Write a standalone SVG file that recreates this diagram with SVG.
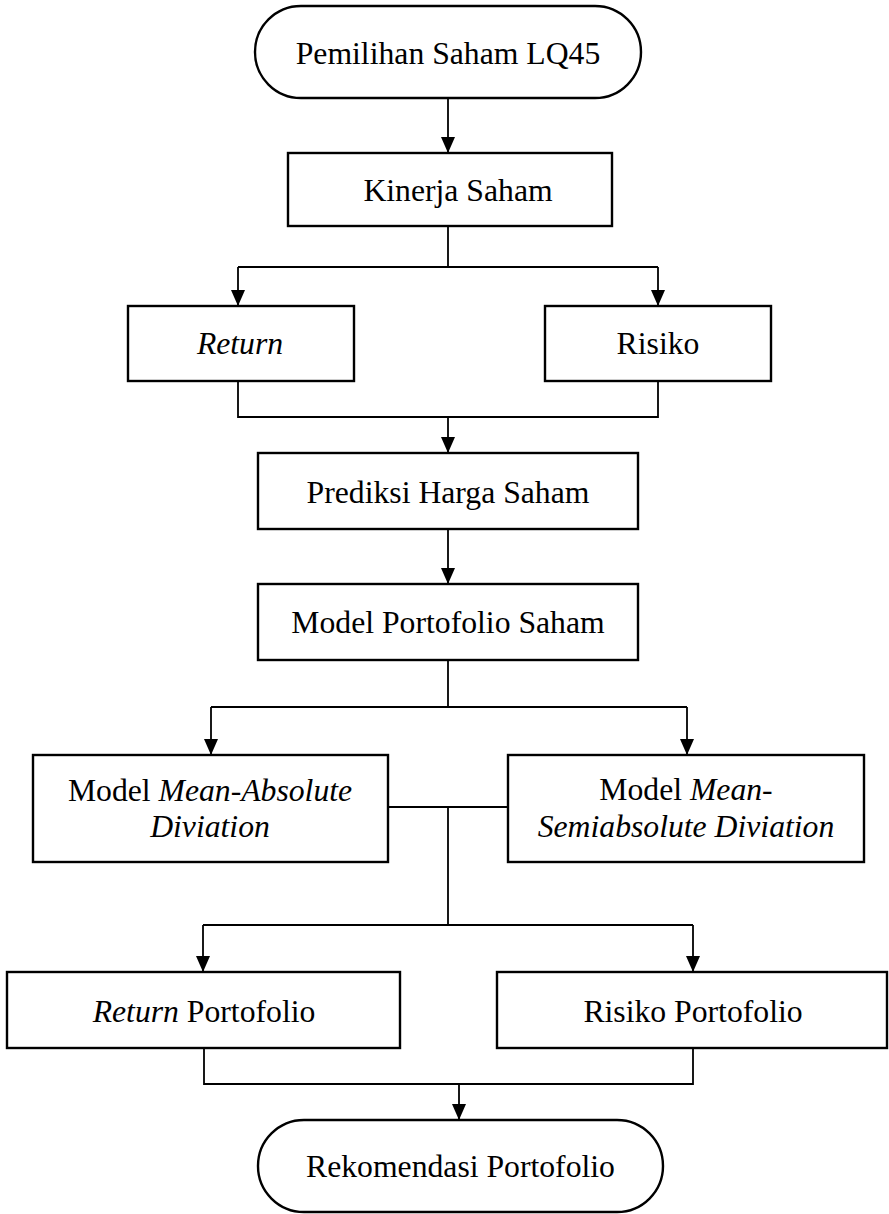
<svg xmlns="http://www.w3.org/2000/svg" width="889" height="1214" viewBox="0 0 889 1214">
<style>
.box{fill:#fff;stroke:#000;stroke-width:2.4}
.ln{fill:none;stroke:#000;stroke-width:1.8}
text{font-family:"Liberation Serif","Times New Roman",serif;font-size:31.7px;fill:#000;text-anchor:middle}
.i{font-style:italic}
</style>
<defs>
<marker id="ah" markerUnits="userSpaceOnUse" markerWidth="18" markerHeight="16" refX="16" refY="7" orient="auto">
<path d="M0,0 L16,7 L0,14 z" fill="#000"/>
</marker>
</defs>
<g id="connectors">
<path class="ln" d="M448,98 V153" marker-end="url(#ah)"/>
<path class="ln" d="M448,226 V267 M238,267 H658"/>
<path class="ln" d="M238,267 V306" marker-end="url(#ah)"/>
<path class="ln" d="M658,267 V306" marker-end="url(#ah)"/>
<path class="ln" d="M238,381 V417 H658 V381"/>
<path class="ln" d="M448,417 V453" marker-end="url(#ah)"/>
<path class="ln" d="M448,529 V584" marker-end="url(#ah)"/>
<path class="ln" d="M448,660 V707 M211,707 H687"/>
<path class="ln" d="M211,707 V755" marker-end="url(#ah)"/>
<path class="ln" d="M687,707 V755" marker-end="url(#ah)"/>
<path class="ln" d="M388,807 H508 M448,807 V925 M203,925 H693"/>
<path class="ln" d="M203,925 V972" marker-end="url(#ah)"/>
<path class="ln" d="M693,925 V972" marker-end="url(#ah)"/>
<path class="ln" d="M204,1048 V1084 H693 V1048"/>
<path class="ln" d="M459,1084 V1120" marker-end="url(#ah)"/>
</g>
<g id="start">
<rect class="box" x="255" y="6" width="386" height="92" rx="46" ry="46"/>
<text x="448" y="64">Pemilihan Saham LQ45</text>
</g>
<g id="kinerja">
<rect class="box" x="288" y="153" width="324" height="73"/>
<text x="458" y="201">Kinerja Saham</text>
</g>
<g id="return">
<rect class="box" x="128" y="306" width="226" height="75"/>
<text class="i" x="240" y="354">Return</text>
</g>
<g id="risiko">
<rect class="box" x="545" y="306" width="226" height="75"/>
<text x="658" y="354">Risiko</text>
</g>
<g id="prediksi">
<rect class="box" x="258" y="453" width="380" height="76"/>
<text x="448" y="503">Prediksi Harga Saham</text>
</g>
<g id="model">
<rect class="box" x="258" y="584" width="380" height="76"/>
<text x="448" y="633">Model Portofolio Saham</text>
</g>
<g id="mad">
<rect class="box" x="33" y="755" width="355" height="107"/>
<text x="210" y="801">Model <tspan class="i">Mean-Absolute</tspan></text>
<text class="i" x="210" y="837">Diviation</text>
</g>
<g id="msad">
<rect class="box" x="508" y="755" width="356" height="107"/>
<text x="686" y="800">Model <tspan class="i">Mean-</tspan></text>
<text class="i" x="686" y="837">Semiabsolute Diviation</text>
</g>
<g id="return-portofolio">
<rect class="box" x="7" y="972" width="393" height="76"/>
<text x="204" y="1022"><tspan class="i">Return</tspan> Portofolio</text>
</g>
<g id="risiko-portofolio">
<rect class="box" x="497" y="972" width="390" height="76"/>
<text x="693" y="1022">Risiko Portofolio</text>
</g>
<g id="end">
<rect class="box" x="258" y="1120" width="405" height="92" rx="46" ry="46"/>
<text x="460.5" y="1177">Rekomendasi Portofolio</text>
</g>
</svg>
